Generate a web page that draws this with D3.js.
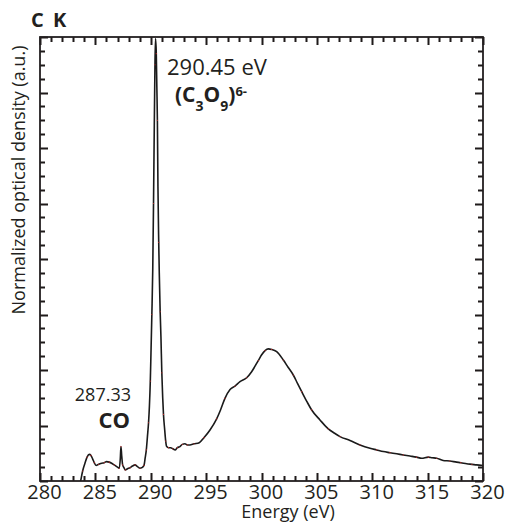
<!DOCTYPE html>
<html><head><meta charset="utf-8">
<script src="https://cdn.jsdelivr.net/npm/d3@7"></script>
<style>body{margin:0;background:#fff}svg{display:block}text{font-family:"Open Sans",sans-serif;fill:#231f20}</style>
</head><body><div id="chart"></div>
<script>
const energy = [283.5,283.67,283.85,284.06,284.25,284.45,284.6,284.75,284.9,285.06,285.3,285.57,285.8,286.02,286.25,286.47,286.7,286.93,287.16,287.25,287.31,287.38,287.46,287.58,287.7,287.9,288.13,288.35,288.58,288.8,289.03,289.2,289.39,289.5,289.6,289.7,289.8,289.88,289.96,290.02,290.1,290.18,290.25,290.32,290.38,290.43,290.5,290.55,290.6,290.65,290.72,290.77,290.85,290.92,291.0,291.08,291.15,291.26,291.35,291.44,291.6,291.8,292.0,292.2,292.4,292.64,292.85,293.09,293.3,293.54,293.9,294.38,294.8,295.35,295.95,296.3,296.7,297.16,297.61,298.06,298.66,299.11,299.71,300.0,300.32,300.62,300.92,301.37,301.97,302.4,302.87,303.25,303.63,304.1,304.53,305.28,306.03,306.6,307.09,307.99,308.89,309.8,310.4,311.0,311.6,312.21,312.8,313.41,314.0,314.46,315.06,315.4,315.82,316.4,317.0,317.62,318.0,318.53,319.0,319.43,320];
const density = [-0.15,0.0,0.18,0.32,0.43,0.48,0.46,0.40,0.33,0.28,0.30,0.32,0.33,0.35,0.34,0.32,0.29,0.26,0.23,0.40,0.62,0.45,0.29,0.24,0.20,0.22,0.24,0.27,0.29,0.26,0.23,0.24,0.28,0.42,0.56,0.80,1.05,1.35,1.8,2.3,3.0,3.8,5.0,6.4,7.5,7.97,7.7,7.1,6.5,5.3,4.3,3.75,3.05,2.6,1.95,1.5,1.2,0.92,0.72,0.62,0.60,0.60,0.58,0.56,0.60,0.62,0.66,0.67,0.65,0.65,0.67,0.69,0.78,0.92,1.12,1.28,1.49,1.65,1.71,1.79,1.86,1.97,2.17,2.27,2.35,2.38,2.37,2.33,2.18,2.05,1.91,1.76,1.61,1.43,1.28,1.10,0.94,0.86,0.80,0.73,0.65,0.59,0.56,0.53,0.51,0.49,0.47,0.45,0.43,0.41,0.43,0.42,0.41,0.37,0.36,0.34,0.33,0.31,0.30,0.29,0.28];
const xTicks = [280,285,290,295,300,305,310,315,320];
const yMajor = [0,1,2,3,4,5,6,7,8];

const W=509,H=527, m={l:40,r:26,t:37,b:46};
const svg=d3.select("#chart").append("svg").attr("width",W).attr("height",H);
const x=d3.scaleLinear().domain([280,320]).range([m.l,W-m.r]);
const y=d3.scaleLinear().domain([0,8]).range([H-m.b,m.t]);
const data=energy.map((e,i)=>({e,v:density[i]}));
const X0=m.l, X1=W-m.r, Y0=m.t, Y1=H-m.b;

svg.append("clipPath").attr("id","clip").append("rect")
  .attr("x",X0).attr("y",Y0).attr("width",X1-X0).attr("height",Y1-Y0);

const g=svg.append("g").attr("clip-path","url(#clip)");
g.append("path").datum(data).attr("fill","none").attr("stroke","#1a1a1a").attr("stroke-width",1.6)
  .attr("stroke-linejoin","round")
  .attr("d",d3.line().x(d=>x(d.e)).y(d=>y(d.v)).curve(d3.curveMonotoneX));
g.selectAll("circle").data(data.filter((d,i)=>i%2===0)).join("circle").attr("cx",d=>x(d.e)).attr("cy",d=>y(d.v))
  .attr("r",0.6).attr("fill","#c62828");

const minorX=d3.range(280,321,1), minorY=d3.range(0,8.01,0.25);
const isMajX=v=>Math.abs(v%5)<1e-6, isMajY=v=>Math.abs(v-Math.round(v))<1e-6;
const px=v=>Math.round(v)+0.5;
let dTicks="";
minorX.forEach(d=>{const L=isMajX(d)?8:5, xx=px(x(d)); dTicks+=`M${xx},${Y1}V${Y1-L}M${xx},${Y0}V${Y0+L}`;});
minorY.forEach(d=>{const L=isMajY(d)?8:5, yy=px(y(d)); dTicks+=`M${X0},${yy}H${X0+L}M${X1},${yy}H${X1-L}`;});
svg.append("path").attr("d",dTicks).attr("fill","none").attr("stroke","#1f1a1a").attr("stroke-width",2);
svg.append("rect").attr("x",X0).attr("y",Y0).attr("width",X1-X0).attr("height",Y1-Y0)
  .attr("fill","none").attr("stroke","#231f20").attr("stroke-width",1.8);

svg.append("g").selectAll("text").data(xTicks).join("text")
  .attr("x",d=>x(d)+4.5).attr("y",499).attr("text-anchor","middle").attr("font-size",20).text(d3.format("d"));

svg.append("text").attr("x",288).attr("y",518).attr("text-anchor","middle").attr("font-size",18).text("Energy (eV)");
svg.append("text").attr("transform","translate(25,180) rotate(-90)").attr("text-anchor","middle").attr("font-size",18).text("Normalized optical density (a.u.)");
svg.append("text").attr("x",31).attr("y",27).attr("font-size",20).attr("font-weight","bold").attr("letter-spacing",2).text("C K");

svg.append("text").attr("x",167).attr("y",75).attr("font-size",22).text("290.45 eV");
const f=svg.append("text").attr("x",175).attr("y",102).attr("font-size",21).attr("font-weight","bold");
f.append("tspan").text("(C");
f.append("tspan").attr("font-size",14).attr("dy",9).text("3");
f.append("tspan").attr("dy",-9).text("O");
f.append("tspan").attr("font-size",14).attr("dy",9).text("9");
f.append("tspan").attr("dy",-9).text(")");
f.append("tspan").attr("font-size",13).attr("dy",-6).text("6-");

svg.append("text").attr("x",131).attr("y",401).attr("text-anchor","end").attr("font-size",18).text("287.33");
svg.append("text").attr("x",130).attr("y",428).attr("text-anchor","end").attr("font-size",22).attr("font-weight","bold").text("CO");
</script></body></html>
